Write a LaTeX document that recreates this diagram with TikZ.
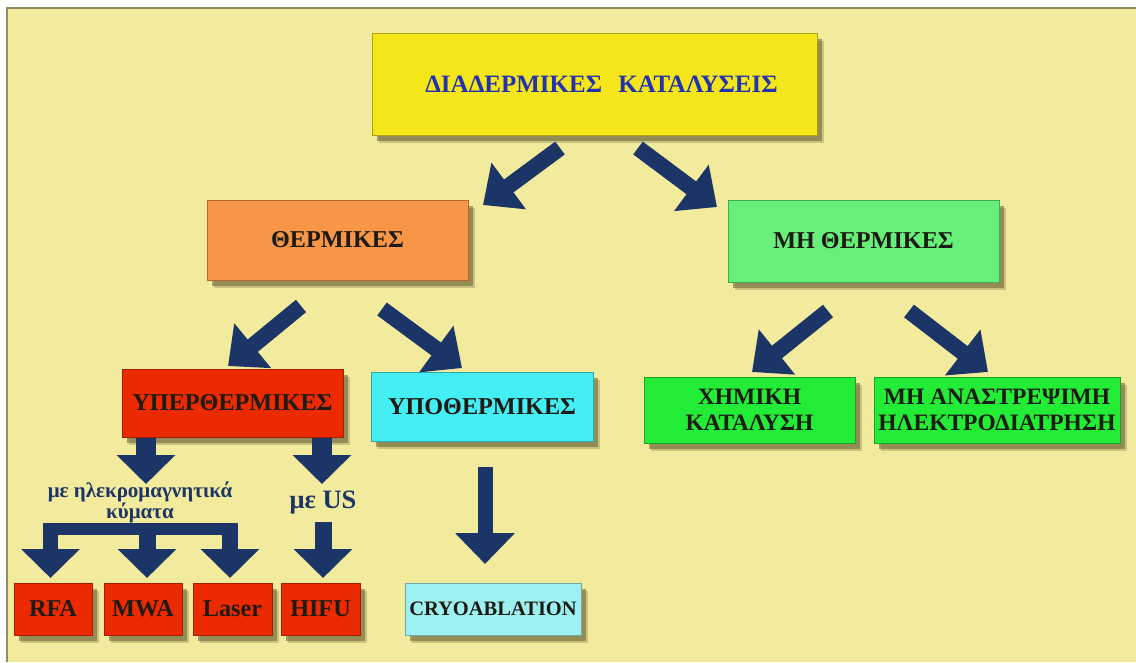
\documentclass[tikz,border=0pt]{standalone}
\usepackage{fontspec}
\setmainfont{Liberation Serif}
\usetikzlibrary{arrows.meta,shadows}
\definecolor{bgyel}{HTML}{F2EA9D}
\definecolor{topyel}{HTML}{F5E61A}
\definecolor{thermorange}{HTML}{F79646}
\definecolor{lightgrn}{HTML}{66F07A}
\definecolor{hotred}{HTML}{EC2A00}
\definecolor{coldcyan}{HTML}{44EEF5}
\definecolor{chemgrn}{HTML}{22EC36}
\definecolor{cryocyan}{HTML}{9DF0F0}
\definecolor{navy}{HTML}{1B3567}
\definecolor{titleblue}{HTML}{2233B0}
\definecolor{darktxt}{HTML}{1E1A14}
\definecolor{shadowol}{HTML}{6F6A3A}
\begin{document}
\begin{tikzpicture}[x=1pt,y=-1pt,
    box/.style={draw=#1!70!black, fill=#1, line width=0.6pt, inner sep=0pt,
      text=darktxt, font=\bfseries\fontsize{24.2}{26}\selectfont, align=center,
      drop shadow={shadow xshift=7pt, shadow yshift=-8pt, fill=shadowol, opacity=0.3},
      drop shadow={shadow xshift=5pt, shadow yshift=-6pt, fill=shadowol, opacity=0.6}},
    fat/.style={navy, line width=#1, line cap=butt},
    fat/.default=16pt,
    tipbig/.style={-{Triangle[length=32pt,width=56pt]}},
    tipsmall/.style={-{Triangle[length=29pt,width=57pt]}},
    lbl/.style={text=navy, font=\bfseries\fontsize{21}{21}\selectfont, align=center, inner sep=0pt}]
  \useasboundingbox (0,0) rectangle (1136,662);
  \fill[white] (0,0) rectangle (1136,662);
  \fill[bgyel] (7,8) rectangle (1136,662);
  \draw[gray!70!olive, line width=1.5pt] (7,662) -- (7,8) -- (1136,8);

  % boxes
  \node[box=topyel, minimum width=445pt, minimum height=102pt, text=titleblue,
        font=\bfseries\fontsize{25}{26}\selectfont] (root) at (594.5,84)
        {\hspace*{14pt}ΔΙΑΔΕΡΜΙΚΕΣ\hspace{0.65em}ΚΑΤΑΛΥΣΕΙΣ};
  \node[box=thermorange, minimum width=261pt, minimum height=80pt] (therm) at (337.5,240) {ΘΕΡΜΙΚΕΣ};
  \node[box=lightgrn, minimum width=271pt, minimum height=82pt] (nontherm) at (863.5,241) {ΜΗ ΘΕΡΜΙΚΕΣ};
  \node[box=hotred, minimum width=221pt, minimum height=68pt] (hyper) at (232.5,403) {ΥΠΕΡΘΕΡΜΙΚΕΣ};
  \node[box=coldcyan, minimum width=222pt, minimum height=69pt] (hypo) at (482,406.5) {ΥΠΟΘΕΡΜΙΚΕΣ};
  \node[box=chemgrn, minimum width=211pt, minimum height=66pt,
        font=\bfseries\fontsize{23.5}{26}\selectfont] (chem) at (749.5,410) {ΧΗΜΙΚΗ\\ΚΑΤΑΛΥΣΗ};
  \node[box=chemgrn, minimum width=246pt, minimum height=66pt,
        font=\bfseries\fontsize{23.5}{26}\selectfont] (ire) at (997,410) {ΜΗ ΑΝΑΣΤΡΕΨΙΜΗ\\ΗΛΕΚΤΡΟΔΙΑΤΡΗΣΗ};
  \node[box=hotred, minimum width=78pt, minimum height=52pt] (rfa) at (53,609) {RFA};
  \node[box=hotred, minimum width=78pt, minimum height=52pt] (mwa) at (143,609) {MWA};
  \node[box=hotred, minimum width=79pt, minimum height=52pt] (laser) at (232.5,609) {Laser};
  \node[box=hotred, minimum width=79pt, minimum height=52pt] (hifu) at (320.5,609) {HIFU};
  \node[box=cryocyan, minimum width=176pt, minimum height=52pt,
        font=\bfseries\fontsize{20.5}{22}\selectfont] (cryo) at (493,609) {CRYOABLATION};

  % labels
  \node[lbl] (em) at (140,502) {με ηλεκρομαγνητικά\\κύματα};
  \node[lbl, font=\bfseries\fontsize{26.5}{26}\selectfont] (us) at (323,503) {με US};

  % arrow ends
  \coordinate (a1s) at (560,148);  \coordinate (a1e) at (483,205);
  \coordinate (a2s) at (638,148);  \coordinate (a2e) at (717,207);
  \coordinate (a3s) at (301,306);  \coordinate (a3e) at (228,366);
  \coordinate (a4s) at (382,309);  \coordinate (a4e) at (462,368);
  \coordinate (a5s) at (828,311);  \coordinate (a5e) at (752,372);
  \coordinate (a6s) at (909,311);  \coordinate (a6e) at (988,372);
  \coordinate (a7s) at (146,438);  \coordinate (a7e) at (146,484);
  \coordinate (a8s) at (322,438);  \coordinate (a8e) at (322,484);
  \coordinate (usS) at (323,522);  \coordinate (usE) at (323,578);
  \coordinate (cryS) at (485,467); \coordinate (cryE) at (485,564);
  \coordinate (barL) at (43,529);  \coordinate (barR) at (238,529);
  \coordinate (b1s) at (50.5,523); \coordinate (b1e) at (50.5,578);
  \coordinate (b2s) at (147,523);  \coordinate (b2e) at (147,578);
  \coordinate (b3s) at (230,523);  \coordinate (b3e) at (230,578);

  % arrows
  \draw[fat, tipbig] (a1s) -- (a1e);
  \draw[fat, tipbig] (a2s) -- (a2e);
  \draw[fat, tipbig] (a3s) -- (a3e);
  \draw[fat, tipbig] (a4s) -- (a4e);
  \draw[fat, tipbig] (a5s) -- (a5e);
  \draw[fat, tipbig] (a6s) -- (a6e);
  \draw[fat=20pt, tipsmall] (a7s) -- (a7e);
  \draw[fat=20pt, tipsmall] (a8s) -- (a8e);
  \draw[fat=17pt, tipsmall] (usS) -- (usE);
  \draw[fat=15pt, -{Triangle[length=31pt,width=58pt]}] (cryS) -- (cryE);
  \draw[fat=12pt] (barL) -- (barR);
  \draw[fat=15pt, tipsmall] (b1s) -- (b1e);
  \draw[fat=17pt, tipsmall] (b2s) -- (b2e);
  \draw[fat=16pt, tipsmall] (b3s) -- (b3e);
\end{tikzpicture}
\end{document}
